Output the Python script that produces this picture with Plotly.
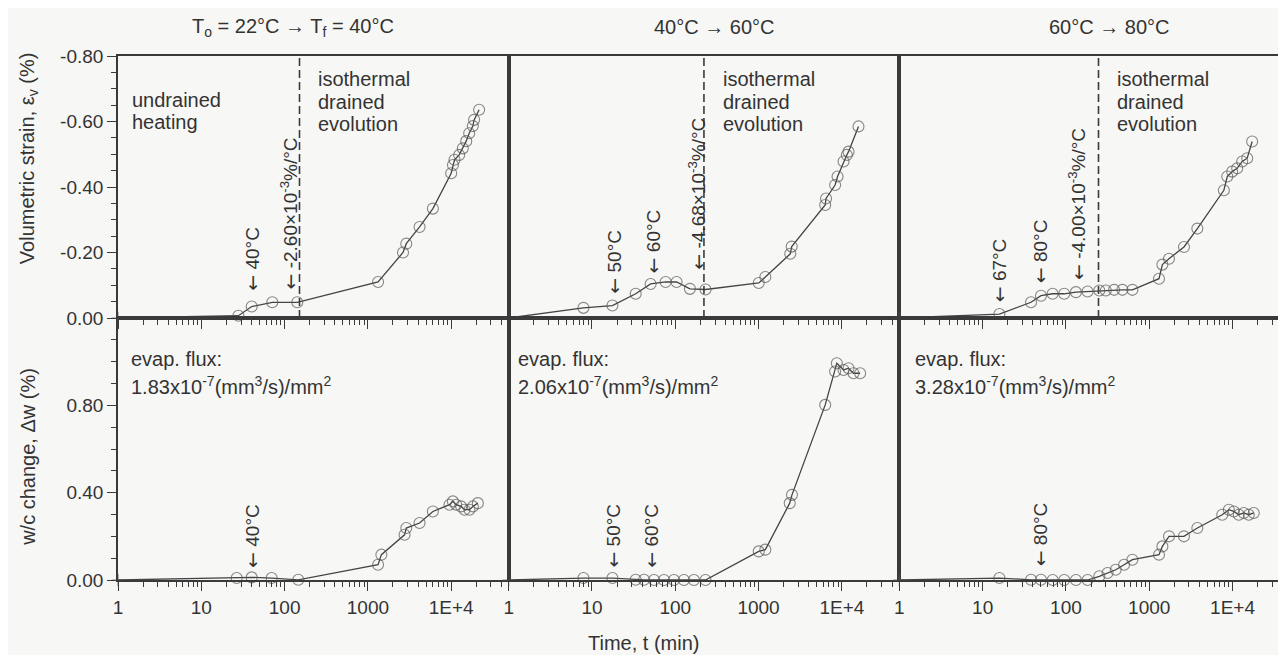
import numpy as np
import plotly.graph_objects as go
from plotly.subplots import make_subplots

# ---------------- data (time in min) ----------------
# Panel 1: 22 -> 40 C
t_ev1 = [1, 27.9, 40.3, 71.2, 142, 1325, 2640, 2890, 4170, 6030, 10000, 10500, 10960,
         12470, 13800, 15140, 16440, 18200, 18850, 21640]
ev1 = [0, -0.007, -0.035, -0.048, -0.048, -0.11, -0.20, -0.227, -0.278, -0.334, -0.442,
       -0.467, -0.483, -0.498, -0.518, -0.54, -0.564, -0.586, -0.605, -0.636]
t_dw1 = [1, 26.6, 40.3, 69.9, 146, 1325, 1452, 2757, 2890, 4170, 6030, 9540, 10480, 11480,
         13180, 14450, 16570, 18200, 20890]
dw1 = [0, 0.009, 0.012, 0.009, 0.001, 0.07, 0.116, 0.207, 0.238, 0.261, 0.314, 0.345, 0.36,
       0.345, 0.337, 0.322, 0.322, 0.337, 0.352]

# Panel 2: 40 -> 60 C
t_ev2 = [1, 7.9, 17.6, 33.5, 50.6, 76.6, 103.7, 150, 230.6, 1005, 1206, 2404, 2500, 6310,
         6460, 8300, 8880, 10480, 11480, 12030, 15840]
ev2 = [0, -0.031, -0.038, -0.074, -0.104, -0.11, -0.11, -0.089, -0.087, -0.107, -0.125,
       -0.196, -0.218, -0.345, -0.365, -0.406, -0.432, -0.478, -0.498, -0.508, -0.585]
t_dw2 = [1, 7.9, 17.6, 33.5, 42.2, 55.6, 73.2, 96.4, 127, 167.5, 230.6, 1005, 1206, 2366,
         2519, 6310, 8300, 8710, 10480, 12030, 13800, 16570]
dw2 = [0, 0.009, 0.009, 0.001, 0.001, 0, 0, 0, 0, 0, 0, 0.131, 0.139, 0.352, 0.39, 0.802,
       0.955, 0.993, 0.962, 0.97, 0.947, 0.947]

# Panel 3: 60 -> 80 C
t_ev3 = [1, 15.9, 38.1, 50.2, 69.2, 95.4, 131.8, 181.9, 251.5, 301, 378.6, 477, 628, 1310,
         1439, 1727, 2612, 3781, 7870, 8650, 9910, 11380, 13060, 15000, 17200]
ev3 = [0, -0.012, -0.048, -0.068, -0.074, -0.074, -0.079, -0.081, -0.084, -0.084, -0.086,
       -0.086, -0.086, -0.12, -0.163, -0.181, -0.217, -0.273, -0.39, -0.432, -0.447, -0.457,
       -0.478, -0.488, -0.539]
t_dw3 = [1, 15.9, 38.1, 50.2, 69.2, 95.4, 131.8, 181.9, 251.5, 316, 396, 499, 628, 1310,
         1439, 1727, 2612, 3781, 7530, 9030, 10370, 11890, 13650, 15670, 18000]
dw3 = [0, 0.009, 0.001, 0.001, 0, 0, 0, 0, 0.017, 0.032, 0.047, 0.07, 0.093, 0.116, 0.154,
       0.2, 0.2, 0.238, 0.299, 0.322, 0.314, 0.299, 0.307, 0.299, 0.307]

# end of undrained heating (dashed line)
t_end_heating = [151, 221, 246]

panel_titles = ["T<sub>o</sub> = 22°C → T<sub>f</sub> = 40°C", "40°C → 60°C", "60°C → 80°C"]
slopes = ["-2.60×10<sup>-3</sup>%/°C", "-4.68×10<sup>-3</sup>%/°C", "-4.00×10<sup>-3</sup>%/°C"]
fluxes = ["1.83x10<sup>-7</sup>(mm<sup>3</sup>/s)/mm<sup>2</sup>",
          "2.06x10<sup>-7</sup>(mm<sup>3</sup>/s)/mm<sup>2</sup>",
          "3.28x10<sup>-7</sup>(mm<sup>3</sup>/s)/mm<sup>2</sup>"]

x_tickvals = [1, 10, 100, 1000, 10000]
x_ticktext = ["1", "10", "100", "1000", "1E+4"]
ev_tickvals = [-0.8, -0.6, -0.4, -0.2, 0.0]
ev_ticktext = ["-0.80", "-0.60", "-0.40", "-0.20", "0.00"]
dw_tickvals = [0.0, 0.4, 0.8]
dw_ticktext = ["0.00", "0.40", "0.80"]

# ---------------- style ----------------
FONT = "Arial, Liberation Sans, sans-serif"
TXT = "#333333"
AX = "#3a3a3a"
BG = "#f7f7f5"
FS = 19
ARROW = '<span style="font-family:DejaVu Sans;font-size:19px">←</span> '

fig = make_subplots(rows=2, cols=3, horizontal_spacing=0, vertical_spacing=0)

ev_series = [(t_ev1, ev1), (t_ev2, ev2), (t_ev3, ev3)]
dw_series = [(t_dw1, dw1), (t_dw2, dw2), (t_dw3, dw3)]


def marker_for(n):
    return dict(symbol=["cross-thin"] + ["circle-open"] * (n - 1), size=[9] + [11] * (n - 1),
                color="#555555", line=dict(color="#555555", width=1.1))


for c in range(3):
    t, v = ev_series[c]
    fig.add_trace(go.Scatter(x=t, y=v, mode="lines+markers", line=dict(color="#444444", width=1.3),
                             marker=marker_for(len(t)), cliponaxis=False, showlegend=False),
                  row=1, col=c + 1)
    fig.add_trace(go.Scatter(x=[t_end_heating[c]] * 2, y=[0, -0.8], mode="lines",
                             line=dict(color=AX, width=1.6, dash="8px,4px"), showlegend=False),
                  row=1, col=c + 1)
    t, v = dw_series[c]
    fig.add_trace(go.Scatter(x=t, y=v, mode="lines+markers", line=dict(color="#444444", width=1.3),
                             marker=marker_for(len(t)), cliponaxis=False, showlegend=False),
                  row=2, col=c + 1)

minor_x = [m * 10 ** k for k in range(5) for m in range(2, 10) if m * 10 ** k < 48000]

for r in (1, 2):
    for c in (1, 2, 3):
        fig.update_xaxes(type="log", range=[0, 4.69], showline=True, linecolor=AX, linewidth=1.6,
                         mirror=True, ticks="outside", ticklen=9, tickwidth=1.3, tickcolor=AX,
                         tickvals=x_tickvals, ticktext=x_ticktext,
                         minor=dict(tickvals=minor_x, ticks="outside", ticklen=5, tickwidth=1,
                                    tickcolor=AX),
                         showgrid=False, zeroline=False, showticklabels=(r == 2),
                         tickfont=dict(family=FONT, size=FS, color=TXT), row=r, col=c)
        if r == 1:
            yk = dict(range=[0, -0.8], tickvals=ev_tickvals, ticktext=ev_ticktext,
                      minor=dict(dtick=0.05, tick0=0, ticks="outside" if c == 1 else "",
                                 ticklen=5, tickwidth=1, tickcolor=AX))
        else:
            yk = dict(range=[0, 1.2], tickvals=dw_tickvals, ticktext=dw_ticktext,
                      minor=dict(dtick=0.1, tick0=0, ticks="outside" if c == 1 else "",
                                 ticklen=5, tickwidth=1, tickcolor=AX))
        fig.update_yaxes(showline=True, linecolor=AX, linewidth=1.6, mirror=True,
                         ticks="outside" if c == 1 else "", ticklen=9, tickwidth=1.3, tickcolor=AX,
                         showticklabels=(c == 1), showgrid=False, zeroline=False,
                         tickfont=dict(family=FONT, size=FS, color=TXT), row=r, col=c, **yk)


def ref(r, c):
    i = (r - 1) * 3 + c
    s = "" if i == 1 else str(i)
    return "x" + s, "y" + s


ann = []
tf = dict(family=FONT, size=FS, color=TXT)
tt = dict(family=FONT, size=20, color=TXT)

# panel titles
for c, xp in zip(range(3), [0.149, 0.509, 0.846]):
    ann.append(dict(text=panel_titles[c], xref="paper", yref="paper", x=xp, y=1.055,
                    xanchor="center", yanchor="middle", showarrow=False, font=tt))


# text blocks (domain coords)
def line_block(r, c, lines, x, ys):
    xr, yr = ref(r, c)
    for ln, yy in zip(lines, ys):
        ann.append(dict(text=ln, xref=xr + " domain", yref=yr + " domain", x=x, y=yy,
                        xanchor="left", yanchor="middle", showarrow=False, font=tt))


line_block(1, 1, ["undrained", "heating"], 0.031, [0.831, 0.747])
for c, xd in zip((1, 2, 3), (0.507, 0.543, 0.551)):
    line_block(1, c, ["isothermal", "drained", "evolution"], xd, [0.912, 0.824, 0.739])
for c, xd in zip((1, 2, 3), (0.027, 0.018, 0.035)):
    line_block(2, c, ["evap. flux:", fluxes[c - 1]], xd, [0.844, 0.741])

# rotated arrow labels: (row, col, t, y_bottom, text)
arrows = [
    (1, 1, 40.6, -0.077, "40°C"),
    (1, 1, 112, -0.08, slopes[0]),
    (1, 2, 18.2, -0.067, "50°C"),
    (1, 2, 53.5, -0.129, "60°C"),
    (1, 2, 182, -0.141, slopes[1]),
    (1, 3, 15.9, -0.043, "67°C"),
    (1, 3, 49.3, -0.101, "80°C"),
    (1, 3, 136, -0.11, slopes[2]),
    (2, 1, 40.6, 0.046, "40°C"),
    (2, 2, 17.7, 0.046, "50°C"),
    (2, 2, 50.7, 0.046, "60°C"),
    (2, 3, 49.3, 0.055, "80°C"),
]
for r, c, t, yb, txt in arrows:
    xr, yr = ref(r, c)
    ann.append(dict(text=ARROW + txt, xref=xr, yref=yr, x=np.log10(t), y=yb, textangle=-90,
                    xanchor="center", yanchor="bottom", showarrow=False, font=tf))

# axis titles
ann.append(dict(text="Volumetric strain, ε<sub>v</sub> (%)", xref="paper", yref="paper",
                x=-0.0768, y=0.805, textangle=-90, xanchor="center", yanchor="middle",
                showarrow=False, font=tt))
ann.append(dict(text="w/c change, Δw (%)", xref="paper", yref="paper", x=-0.0768, y=0.235,
                textangle=-90, xanchor="center", yanchor="middle", showarrow=False, font=tt))
ann.append(dict(text="Time, t (min)", xref="paper", yref="paper", x=0.448, y=-0.12,
                xanchor="center", yanchor="middle", showarrow=False, font=tt))

fig.update_layout(width=1286, height=655,
                  margin=dict(l=110, r=4, t=48, b=83, autoexpand=False),
                  paper_bgcolor=BG, plot_bgcolor=BG, annotations=ann,
                  font=dict(family=FONT, size=FS, color=TXT), showlegend=False)

fig.write_html("out.html")
